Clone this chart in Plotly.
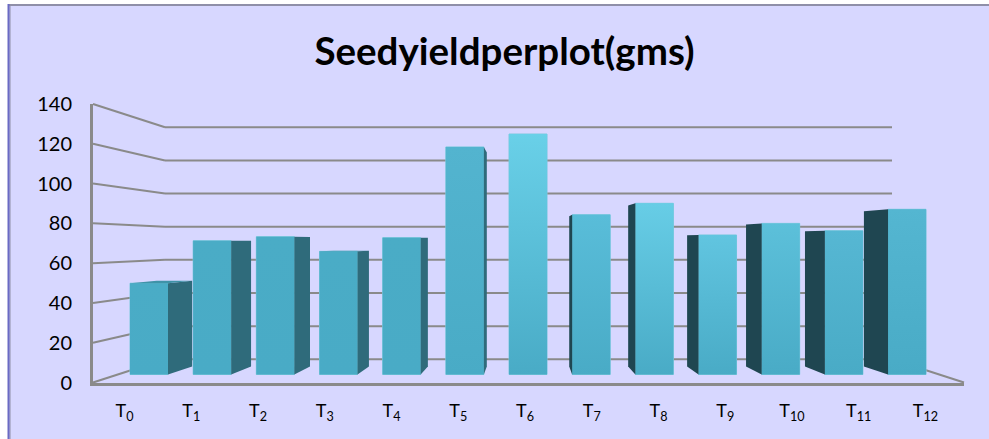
import plotly.graph_objects as go

# ---- data ----
categories = ["T<sub>%d</sub>" % i for i in range(13)]
seed_yield = [47.3, 69.3, 71.4, 63.8, 70.9, 117.9, 124.6, 82.8, 88.7, 72.3, 78.3, 74.5, 85.6]
face_top = ["#4aacc6", "#4aacc6", "#4aacc6", "#4aacc6", "#4aacc6", "#53b4cf", "#69d0e8",
            "#59bdd9", "#67cde6", "#61c5e0", "#5cc0da", "#56b7d3", "#54b6d1"]
face_bottom = "#49abc6"
y_ticks = [0, 20, 40, 60, 80, 100, 120, 140]

W, H = 989, 439
BG = "#d7d7ff"
SIDE_L = "#2f6b7b"
SIDE_R = "#1f4651"
TOP = "#3f93a8"
GRID = "#8a8a8a"

# ---- scales of the bar plane ----
BAR_X0, BAR_STEP = 149.0, 63.17       # px position of first bar, px per category
BAR_Y0, BAR_UNIT = 374.5, 1.93        # px position of zero, px per unit
BAR_W = 38 / BAR_STEP
xr = [-BAR_X0 / BAR_STEP, (W - BAR_X0) / BAR_STEP]
yr = [(BAR_Y0 - H) / BAR_UNIT, BAR_Y0 / BAR_UNIT]

# ---- depth projection of the bars (vanishing towards T6) ----
VANISH = 6
KX, KY = 0.933, 0.94
LIFT = 8 / BAR_UNIT


def back(x, y):
    return VANISH + (x - VANISH) * KX, LIFT + y * KY


fig = go.Figure()

fig.add_trace(go.Bar(
    x=list(range(len(seed_yield))), y=seed_yield, width=BAR_W,
    marker=dict(color=face_top, line=dict(color="#7cc8dc", width=1)),
    xaxis="x", yaxis="y", hoverinfo="skip", showlegend=False))

for i, v in enumerate(seed_yield):
    l, r = i - BAR_W / 2, i + BAR_W / 2
    # gradient over the front face
    fig.add_trace(go.Scatter(
        x=[l, r, r, l, l], y=[0, 0, v, v, 0], mode="none", fill="toself",
        fillgradient=dict(type="vertical",
                          colorscale=[[0, face_bottom], [1, face_top[i]]]),
        xaxis="x", yaxis="y", hoverinfo="skip", showlegend=False))
    # side face
    if i != VANISH:
        e = r if i < VANISH else l
        bx, b0 = back(e, 0)
        _, bv = back(e, v)
        fig.add_trace(go.Scatter(
            x=[e, bx, bx, e, e], y=[0, b0, bv, v, 0], mode="none", fill="toself",
            fillcolor=SIDE_L if i < VANISH else SIDE_R,
            xaxis="x", yaxis="y", hoverinfo="skip", showlegend=False))
    # top face when it is seen from above
    bl, bt = back(l, v)
    br, _ = back(r, v)
    if bt > v:
        fig.add_trace(go.Scatter(
            x=[l, r, br, bl, l], y=[v, v, bt, bt, v], mode="none", fill="toself",
            fillcolor=TOP, xaxis="x", yaxis="y", hoverinfo="skip", showlegend=False))

# ---- front plane: carries the visible axes and tick labels ----
AX_L, AX_R, AX_B, AX_T = 93.0, 964.0, 382.5, 104.0
fig.add_trace(go.Scatter(x=categories, y=[None] * len(categories), mode="lines",
                         xaxis="x2", yaxis="y2", hoverinfo="skip", showlegend=False))

# ---- walls, derived from the tick values ----
BACK_L, BACK_R, BACK_B, BACK_T = 165.0, 892.0, 359.3, 127.3
shapes = [dict(type="rect", xref="paper", yref="paper", layer="below",
               x0=9 / W, x1=1, y0=0, y1=1 - 5 / H,
               fillcolor=BG, line=dict(width=0))]


def py(p):
    return 1 - p / H


shapes.append(dict(type="line", xref="paper", yref="paper", layer="below",
                   x0=9 / W, x1=1, y0=py(5), y1=py(5),
                   line=dict(color="#8f8fa8", width=2)))
shapes.append(dict(type="line", xref="paper", yref="paper", layer="below",
                   x0=10 / W, x1=10 / W, y0=0, y1=py(5),
                   line=dict(color="#8f8fa8", width=1)))
shapes.append(dict(type="line", xref="paper", yref="paper", layer="below",
                   x0=8.5 / W, x1=8.5 / W, y0=0, y1=py(4),
                   line=dict(color="#6a6ac4", width=2)))

for t in y_ticks:
    f = AX_B + (AX_T - AX_B) * t / 140
    b = BACK_B + (BACK_T - BACK_B) * t / 140
    shapes.append(dict(type="line", xref="paper", yref="paper", layer="below",
                       x0=AX_L / W, x1=BACK_L / W, y0=py(f), y1=py(b),
                       line=dict(color=GRID, width=2)))
    shapes.append(dict(type="line", xref="paper", yref="paper", layer="below",
                       x0=BACK_L / W, x1=BACK_R / W, y0=py(b), y1=py(b),
                       line=dict(color=GRID, width=2)))
shapes.append(dict(type="line", xref="paper", yref="paper", layer="below",
                   x0=BACK_R / W, x1=AX_R / W, y0=py(BACK_B), y1=py(AX_B),
                   line=dict(color=GRID, width=2)))

FONT = "Lato, Carlito, Calibri, sans-serif"

fig.update_layout(
    width=W, height=H, autosize=False,
    margin=dict(l=0, r=0, t=0, b=0, pad=0, autoexpand=False),
    paper_bgcolor="white", plot_bgcolor="rgba(0,0,0,0)",
    shapes=shapes, showlegend=False, barmode="overlay",
    title=dict(text="<b>Seedyieldperplot(gms)</b>", x=504.5 / W, xanchor="center",
               y=py(52), yanchor="middle", automargin=False,
               font=dict(family=FONT, size=38.5, color="black")),
    xaxis=dict(domain=[0, 1], range=xr, visible=False, fixedrange=True),
    yaxis=dict(domain=[0, 1], range=yr, visible=False, fixedrange=True),
    xaxis2=dict(domain=[AX_L / W, AX_R / W], anchor="y2", type="category",
                categoryorder="array", categoryarray=categories,
                range=[-0.472, 12.577],
                showgrid=False, zeroline=False, showline=True, linecolor=GRID, linewidth=3,
                ticks="", ticklabelstandoff=10, fixedrange=True,
                tickfont=dict(family=FONT, size=18, color="black")),
    yaxis2=dict(domain=[py(AX_B), py(AX_T)], anchor="x2", range=[0, 140],
                tickvals=y_ticks, showgrid=False, zeroline=False,
                showline=True, linecolor=GRID, linewidth=3,
                ticks="", ticklabelstandoff=14, fixedrange=True,
                tickfont=dict(family=FONT, size=20, color="black")),
)

fig.write_html("out.html", config={"displayModeBar": False},
               post_script="document.body.style.margin='0';document.documentElement.style.overflow='hidden';")
